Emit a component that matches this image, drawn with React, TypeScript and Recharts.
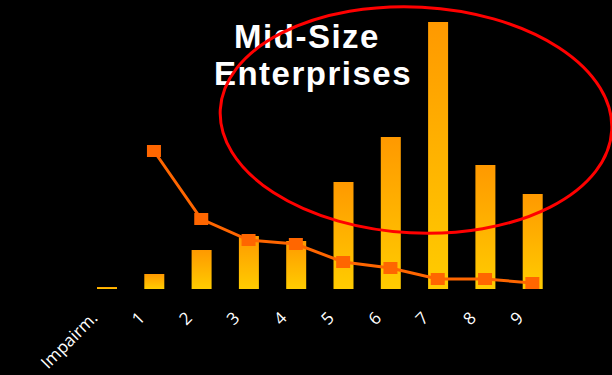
import React from "react";
import {
  ComposedChart,
  Bar,
  Line,
  XAxis,
  YAxis,
} from "recharts";

// Categories along the x axis
const CATEGORIES = ["Impairm.", "1", "2", "3", "4", "5", "6", "7", "8", "9"];
// Bar heights (same scale as line)
const BAR_VALUES = [2, 15, 39, 53, 48, 107, 152, 267, 124, 95];
// Line values (no point on the first category)
const LINE_VALUES: (number | null)[] = [null, 138, 70, 49, 45, 27, 21, 10, 10, 6];

const TITLE_LINES = ["Mid-Size", "Enterprises"];

const data = CATEGORIES.map((name, i) => ({
  name,
  bar: BAR_VALUES[i],
  line: LINE_VALUES[i],
}));

/**
 * Rotated category label, anchored at its end
 */
function RotatedTick(props: any) {
  const { x, y, payload } = props;
  return (
    <g transform={`translate(${x - 8},${y + 22})`}>
      <text
        textAnchor="end"
        fill="#ffffff"
        fontSize={17}
        fontFamily="'Open Sans', 'DejaVu Sans', sans-serif"
        transform="rotate(-45)"
      >
        {payload.value}
      </text>
    </g>
  );
}

/**
 * Square marker for the line
 */
function SquareDot(props: any) {
  const { cx, cy, value, index } = props;
  if (value === null || value === undefined || cy == null) {
    return <g key={`d-${index}`} />;
  }
  return (
    <rect
      key={`d-${index}`}
      x={cx - 7}
      y={cy - 6}
      width={14}
      height={12}
      fill="#ff6600"
    />
  );
}

export default function App() {
  return (
    <div
      style={{
        position: "fixed",
        left: 0,
        top: 0,
        width: 612,
        height: 375,
        background: "#000000",
        overflow: "hidden",
      }}
    >
      <ComposedChart
        width={612}
        height={375}
        data={data}
        margin={{ top: 19, right: 56, left: 83, bottom: 0 }}
        barCategoryGap="28%"
      >
        <defs>
          <linearGradient id="barGrad" x1="0" y1="0" x2="0" y2="1">
            <stop offset="0%" stopColor="#ff9900" />
            <stop offset="100%" stopColor="#ffcc00" />
          </linearGradient>
        </defs>
        <XAxis
          dataKey="name"
          axisLine={false}
          tickLine={false}
          height={86}
          interval={0}
          tick={<RotatedTick />}
        />
        <YAxis hide domain={[0, 270]} />
        <Bar
          dataKey="bar"
          fill="url(#barGrad)"
          barSize={20}
          isAnimationActive={false}
        />
        <Line
          dataKey="line"
          stroke="#ff6600"
          strokeWidth={3}
          type="linear"
          dot={<SquareDot />}
          activeDot={false}
          isAnimationActive={false}
        />
      </ComposedChart>
      <svg
        width={612}
        height={375}
        style={{ position: "absolute", left: 0, top: 0, pointerEvents: "none" }}
      >
        <text
          x={307}
          y={48}
          textAnchor="middle"
          fill="#ffffff"
          fontSize={33}
          fontWeight="bold"
          letterSpacing={1.5}
          fontFamily="'Liberation Sans', Arial, sans-serif"
        >
          {TITLE_LINES[0]}
        </text>
        <text
          x={313}
          y={85}
          textAnchor="middle"
          fill="#ffffff"
          fontSize={33}
          fontWeight="bold"
          letterSpacing={1.5}
          fontFamily="'Liberation Sans', Arial, sans-serif"
        >
          {TITLE_LINES[1]}
        </text>
        <ellipse
          cx={416}
          cy={120}
          rx={196}
          ry={113}
          fill="none"
          stroke="#ff0000"
          strokeWidth={3}
          transform="rotate(3 416 120)"
        />
      </svg>
    </div>
  );
}
